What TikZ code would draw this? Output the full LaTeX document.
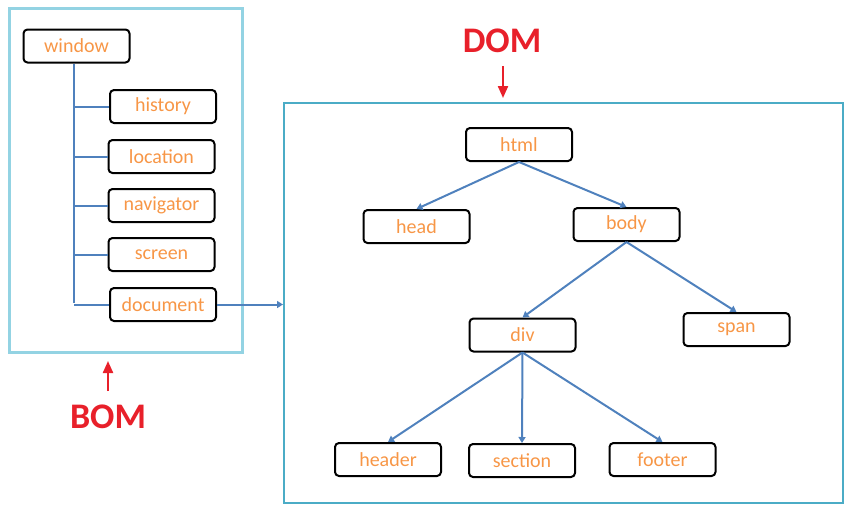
\documentclass[tikz,border=0pt]{standalone}
\usepackage{fontspec}
\setmainfont{Carlito}
\usetikzlibrary{arrows.meta}
\definecolor{bomframe}{HTML}{93D3E3}
\definecolor{domframe}{HTML}{4BACC6}
\definecolor{conn}{HTML}{4F81BD}
\definecolor{txt}{HTML}{F79646}
\definecolor{lbl}{HTML}{E8202A}
\tikzset{
  item/.style={draw=black, line width=2pt, rounded corners=4pt, minimum width=106pt, minimum height=33pt, inner sep=0pt, text=txt, font=\fontsize{20}{20}\selectfont},
  link/.style={draw=conn, line width=2pt},
  arr/.style={link, -{Triangle[width=7pt,length=6pt]}},
  big/.style={text=lbl, font=\fontsize{36}{36}\selectfont\bfseries},
  redarr/.style={draw=lbl, line width=2.2pt, -{Triangle[width=10pt,length=12pt]}}
}
\begin{document}
\begin{tikzpicture}[x=1pt,y=-1pt]
\useasboundingbox (0,0) rectangle (852,512);
% frames
\node[draw=bomframe, line width=3pt, minimum width=233pt, minimum height=344pt, inner sep=0pt] (bom) at (125.5,180) {};
\node[draw=domframe, line width=2pt, minimum width=559pt, minimum height=400pt, inner sep=0pt] (dom) at (563.5,303) {};
% BOM nodes
\node[item] (window) at (76.5,46) {window};
\node[item] (history) at (163,106.5) {history};
\node[item] (location) at (161.5,156.5) {location};
\node[item] (navigator) at (161.5,205.5) {navigator};
\node[item] (screen) at (161.5,254.5) {screen};
\node[item] (document) at (163,304.5) {document};
\coordinate (trunk) at (74,303);
\coordinate (tb1) at (74,107);
\coordinate (tb2) at (74,157);
\coordinate (tb3) at (74,206);
\coordinate (tb4) at (74,255);
\coordinate (tb5) at (74,305);
\draw[link] (window.south -| trunk) -- (trunk);
\draw[link] (tb1) -- (history.west |- tb1);
\draw[link] (tb2) -- (location.west |- tb2);
\draw[link] (tb3) -- (navigator.west |- tb3);
\draw[link] (tb4) -- (screen.west |- tb4);
\draw[link] (tb5) -- (document.west |- tb5);
\draw[arr] (document.east) -- (dom.west |- document.east);
% DOM nodes
\node[item] (html) at (519,144.5) {html};
\node[item] (head) at (416.5,226.5) {head};
\node[item] (body) at (626.5,224.5) {body};
\node[item] (div) at (522.5,335) {div};
\node[item] (span) at (736.5,329.5) {span};
\node[item] (header) at (388,459.5) {header};
\node[item] (section) at (522,460.5) {section};
\node[item] (footer) at (662.5,459.5) {footer};
\draw[arr] (html.south) -- (head.north);
\draw[arr] (html.south) -- (body.north);
\draw[arr] (body.south) -- (div.north);
\draw[arr] (body.south) -- (span.north);
\draw[arr] (div.south) -- (header.north);
\draw[arr] (div.south) -- (section.north);
\draw[arr] (div.south) -- (footer.north);
% labels
\node[big] (domlbl) at (502,41) {DOM};
\node[big] (bomlbl) at (108,417) {BOM};
\coordinate (domarrtop) at (503,66);
\draw[redarr] (domarrtop) -- (503,98);
\coordinate (bomarrbot) at (108,391);
\draw[redarr] (bomarrbot) -- (108,361);
\end{tikzpicture}
\end{document}
